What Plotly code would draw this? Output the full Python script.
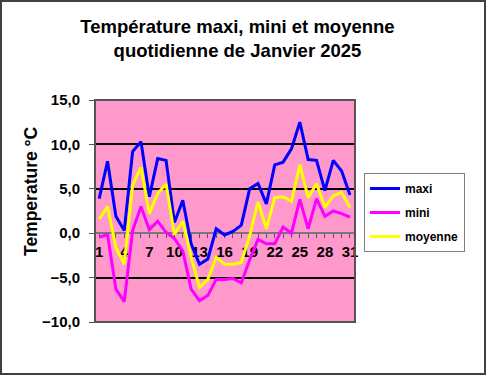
import plotly.graph_objects as go

days = list(range(1, 32))
tick_labels = [str(d) if (d - 1) % 3 == 0 else "" for d in days]
maxi = [3.9, 8.1, 1.9, 0.3, 9.2, 10.3, 4.1, 8.4, 8.2, 1.2, 3.7, -1.2, -3.5, -2.9, 0.5, -0.2,
        0.2, 0.9, 5.0, 5.6, 3.3, 7.7, 8.0, 9.5, 12.5, 8.3, 8.2, 4.8, 8.2, 7.0, 4.3]
mini = [-0.45, -0.15, -6.3, -7.7, 0.3, 3.0, 0.4, 1.35, 0.1, -0.6, -2.0, -6.3, -7.6, -7.0, -5.2, -5.2,
        -5.1, -5.6, -3.0, -0.7, -1.2, -1.2, 0.7, 0.0, 3.8, 0.5, 3.9, 1.9, 2.5, 2.2, 1.8]
moyenne = [1.6, 3.0, -1.6, -3.5, 5.4, 7.4, 2.2, 4.5, 5.5, -0.15, 1.35, -2.7, -6.1, -5.2, -2.7, -3.5,
           -3.5, -3.3, -0.3, 3.5, 0.5, 4.0, 4.1, 3.6, 7.7, 4.0, 5.6, 2.9, 4.2, 4.6, 2.9]

W, H = 486, 375
L, R, T, B = 95, 131, 100, 53
pw, ph = W - L - R, H - T - B

FONT = "Liberation Sans, Arial, sans-serif"

fig = go.Figure()
for name, vals, col in [("maxi", maxi, "#0000FF"), ("mini", mini, "#FF00FF"), ("moyenne", moyenne, "#FFFF00")]:
    fig.add_trace(go.Scatter(x=days, y=vals, mode="lines", name=name, legendgroup=name,
                             line=dict(color=col, width=3)))

def px_x(px):
    return (px - L) / pw

def px_y(py):
    return (H - B - py) / ph

fig.update_layout(
    width=W, height=H,
    margin=dict(l=L, r=R, t=T, b=B),
    paper_bgcolor="white",
    plot_bgcolor="#FF99CC",
    separators=", ",
    font=dict(family=FONT, color="black"),
    title=dict(text="Température maxi, mini et moyenne<br>quotidienne de Janvier 2025",
               x=237.5 / W, xanchor="center", xref="container",
               y=1 - 33 / H, yanchor="middle", yref="container",
               font=dict(size=18.5, weight="bold", family=FONT, color="black")),
    xaxis=dict(type="linear", range=[0.5, 31.6], anchor="free", position=0.4,
               tickmode="array", tickvals=days, ticktext=tick_labels,
               ticks="outside", ticklen=4, tickwidth=1, tickcolor="#555555",
               showline=True, linecolor="#777777", linewidth=2,
               showgrid=False, zeroline=False, layer="below traces",
               tickfont=dict(size=15, weight="bold", family=FONT, color="black"),
               ticklabelstandoff=1),
    yaxis=dict(range=[-10, 15], tickmode="array", tickvals=[-10, -5, 0, 5, 10, 15],
               tickformat=".1f", ticks="outside", ticklen=5, tickcolor="#555555",
               showgrid=True, gridcolor="black", gridwidth=2, zeroline=False,
               tickfont=dict(size=15, weight="bold", family=FONT, color="black"),
               ticklabelstandoff=6),
    legend=dict(x=px_x(364), y=px_y(173), xanchor="left", yanchor="top",
                bordercolor="#808080", borderwidth=1, bgcolor="white",
                tracegroupgap=5, itemwidth=30,
                font=dict(size=12, weight="bold", family=FONT, color="black")),
    showlegend=True,
)

fig.add_annotation(text="Temperature °C", textangle=-90, xref="paper", yref="paper",
                   x=px_x(31), y=px_y(191), showarrow=False, xanchor="center", yanchor="middle",
                   font=dict(size=17.5, weight="bold", family=FONT, color="black"))

# plot frame
fig.add_shape(type="rect", xref="paper", yref="paper", x0=0, x1=1, y0=0, y1=1,
              line=dict(color="#555555", width=2), layer="above")
# outer figure border
fig.add_shape(type="rect", xref="paper", yref="paper", x0=px_x(1), x1=px_x(485), y0=px_y(374), y1=px_y(1),
              line=dict(color="#404040", width=2), layer="above")

fig.write_html("out.html", config={"displayModeBar": False},
               post_script="document.body.style.margin='0';document.body.style.overflow='hidden';")
